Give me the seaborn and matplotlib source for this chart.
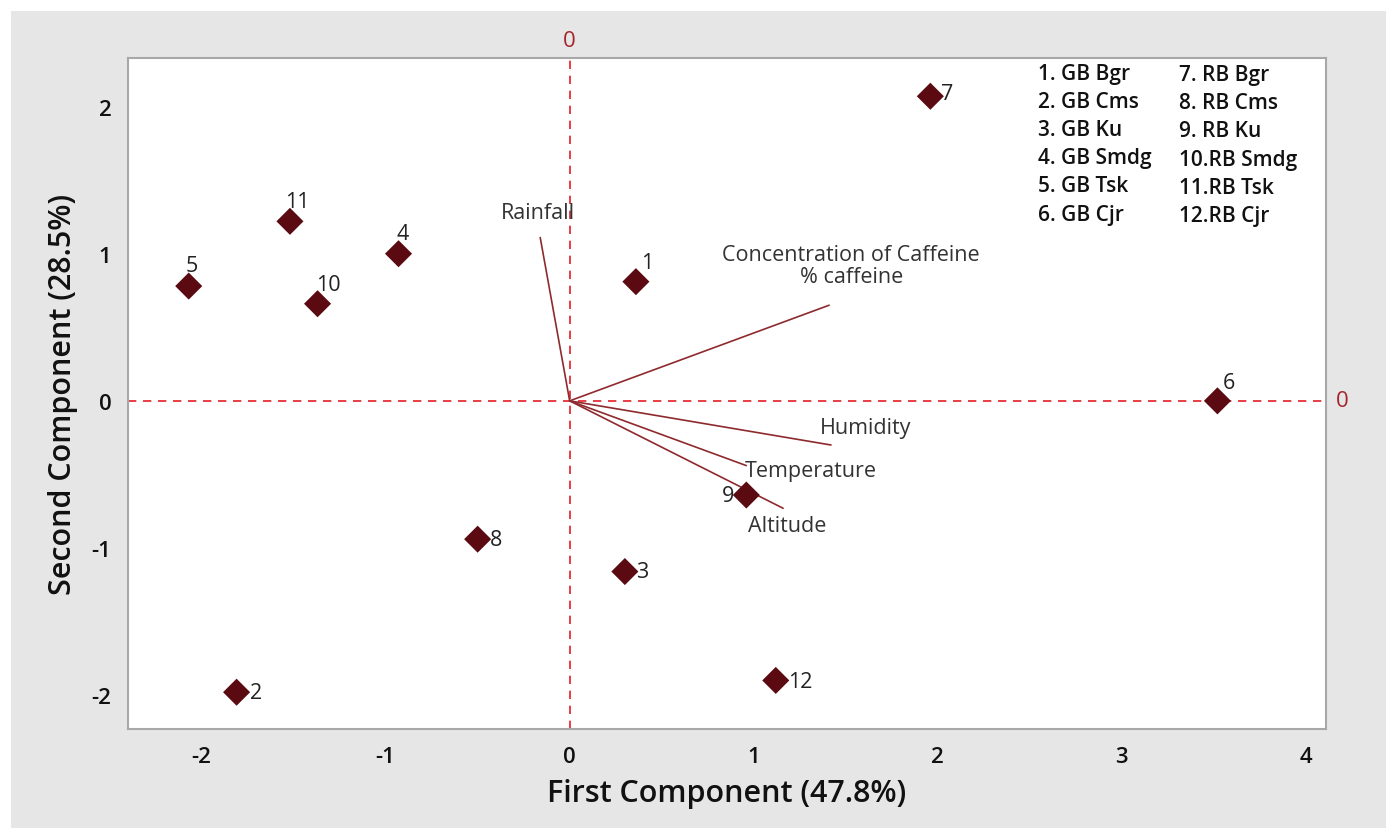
import matplotlib
matplotlib.use("Agg")
import matplotlib.pyplot as plt
import seaborn as sns
import pandas as pd
from matplotlib.patches import Rectangle

# ---- data ----
sample_ids = ["1", "2", "3", "4", "5", "6", "7", "8", "9", "10", "11", "12"]
pc1_scores = [0.36, -1.81, 0.30, -0.93, -2.07, 3.52, 1.96, -0.50, 0.96, -1.37, -1.52, 1.12]
pc2_scores = [0.81, -1.98, -1.16, 1.00, 0.78, 0.00, 2.07, -0.94, -0.64, 0.66, 1.22, -1.90]

variables = ["Rainfall", "Concentration of Caffeine\n% caffeine", "Humidity", "Temperature", "Altitude"]
load_pc1 = [-0.16, 1.41, 1.42, 0.96, 1.16]
load_pc2 = [1.11, 0.65, -0.30, -0.44, -0.73]

legend_left = ["1. GB Bgr", "2. GB Cms", "3. GB Ku", "4. GB Smdg", "5. GB Tsk", "6. GB Cjr"]
legend_right = ["7. RB Bgr", "8. RB Cms", "9. RB Ku", "10.RB Smdg", "11.RB Tsk", "12.RB Cjr"]

x_ticks = [-2, -1, 0, 1, 2, 3, 4]
y_ticks = [-2, -1, 0, 1, 2]

# label offsets (points) for each sample label
label_offsets = {
    "1": (8, 6, "center", "bottom"), "2": (10, 0, "left", "center"), "3": (8, 0, "left", "center"),
    "4": (3, 7, "center", "bottom"), "5": (2, 7, "center", "bottom"), "6": (8, 6, "center", "bottom"),
    "7": (8, 2, "left", "center"), "8": (9, 0, "left", "center"), "9": (-9, 0, "right", "center"),
    "10": (8, 6, "center", "bottom"), "11": (5, 7, "center", "bottom"), "12": (9, -1, "left", "center"),
}
var_label_pos = {
    "Rainfall": (-0.17, 1.28, "center"),
    "Concentration of Caffeine\n% caffeine": (1.53, 0.92, "center"),
    "Humidity": (1.61, -0.18, "center"),
    "Temperature": (1.31, -0.47, "center"),
    "Altitude": (1.18, -0.85, "center"),
}

df = pd.DataFrame({"PC1": pc1_scores, "PC2": pc2_scores, "id": sample_ids})

sns.set_style("white")
plt.rcParams["font.family"] = ["Open Sans", "DejaVu Sans"]

fig = plt.figure(figsize=(13.86, 8.29), dpi=100)
fig.patch.set_facecolor("white")
fig.patches.append(Rectangle((11 / 1386, 0), 1 - 11 / 1386, 1 - 12 / 829,
                             transform=fig.transFigure, facecolor="#E6E6E6",
                             edgecolor="none", zorder=-10))
ax = fig.add_axes([128 / 1386, 1 - 730 / 829, (1326 - 128) / 1386, (730 - 59) / 829])
ax.set_facecolor("white")

ax.set_xlim(-2.40, 4.11)
ax.set_ylim(-2.23, 2.33)

red = "#E41E26"
ax.axvline(0, color=red, ls=(0, (5, 4)), lw=1.2, zorder=1)
ax.axhline(0, color=red, ls=(0, (5, 4)), lw=1.2, zorder=1)

vec_color = "#8E2A2E"
for v, lx, ly in zip(variables, load_pc1, load_pc2):
    ax.plot([0, lx], [0, ly], color=vec_color, lw=1.2, zorder=2)
    tx, ty, ha = var_label_pos[v]
    ax.text(tx, ty, v, ha=ha, va="center", fontsize=15.5, color="#333333",
            linespacing=1.1, zorder=3)

sns.scatterplot(data=df, x="PC1", y="PC2", marker="D", s=190, color="#5A0A10",
                edgecolor="none", ax=ax, zorder=4, legend=False)

for sid, x, y in zip(sample_ids, pc1_scores, pc2_scores):
    dx, dy, ha, va = label_offsets[sid]
    ax.annotate(sid, (x, y), xytext=(dx, dy), textcoords="offset points",
                ha=ha, va=va, fontsize=15.5, color="#222222", zorder=5)

# reference "0" labels outside the frame
ax.text(0, 1.010, "0", transform=ax.get_xaxis_transform(), ha="center", va="bottom",
        fontsize=16, color="#A4262C", clip_on=False)
ax.text(1.008, 0, "0", transform=ax.get_yaxis_transform(), ha="left", va="center",
        fontsize=16, color="#A4262C", clip_on=False)

# legend text block
for i, (l, r) in enumerate(zip(legend_left, legend_right)):
    yy = 0.993 - i * 0.0420
    ax.text(0.760, yy, l, transform=ax.transAxes, ha="left", va="top", fontsize=15,
            fontweight="semibold", color="#111111")
    ax.text(0.877, yy - 0.002, r, transform=ax.transAxes, ha="left", va="top", fontsize=15,
            fontweight="semibold", color="#111111")

ax.set_xticks(x_ticks)
ax.set_yticks(y_ticks)
ax.set_xticklabels([str(t) for t in x_ticks])
ax.set_yticklabels([str(t) for t in y_ticks])
ax.tick_params(axis="both", which="major", length=6, width=1, color="#9A9A9A",
               labelsize=16, labelcolor="#111111", direction="out", pad=6)
for lab in ax.get_xticklabels() + ax.get_yticklabels():
    lab.set_fontweight("semibold")

for sp in ax.spines.values():
    sp.set_color("#A8A8A8")
    sp.set_linewidth(1.5)
    sp.set_visible(True)

ax.set_xlabel("First Component (47.8%)", fontsize=22, fontweight="semibold",
              color="#111111", labelpad=8)
ax.set_ylabel("Second Component (28.5%)", fontsize=22, fontweight="semibold",
              color="#111111", labelpad=10)

fig.savefig("out.png", dpi=100, facecolor=fig.get_facecolor())
